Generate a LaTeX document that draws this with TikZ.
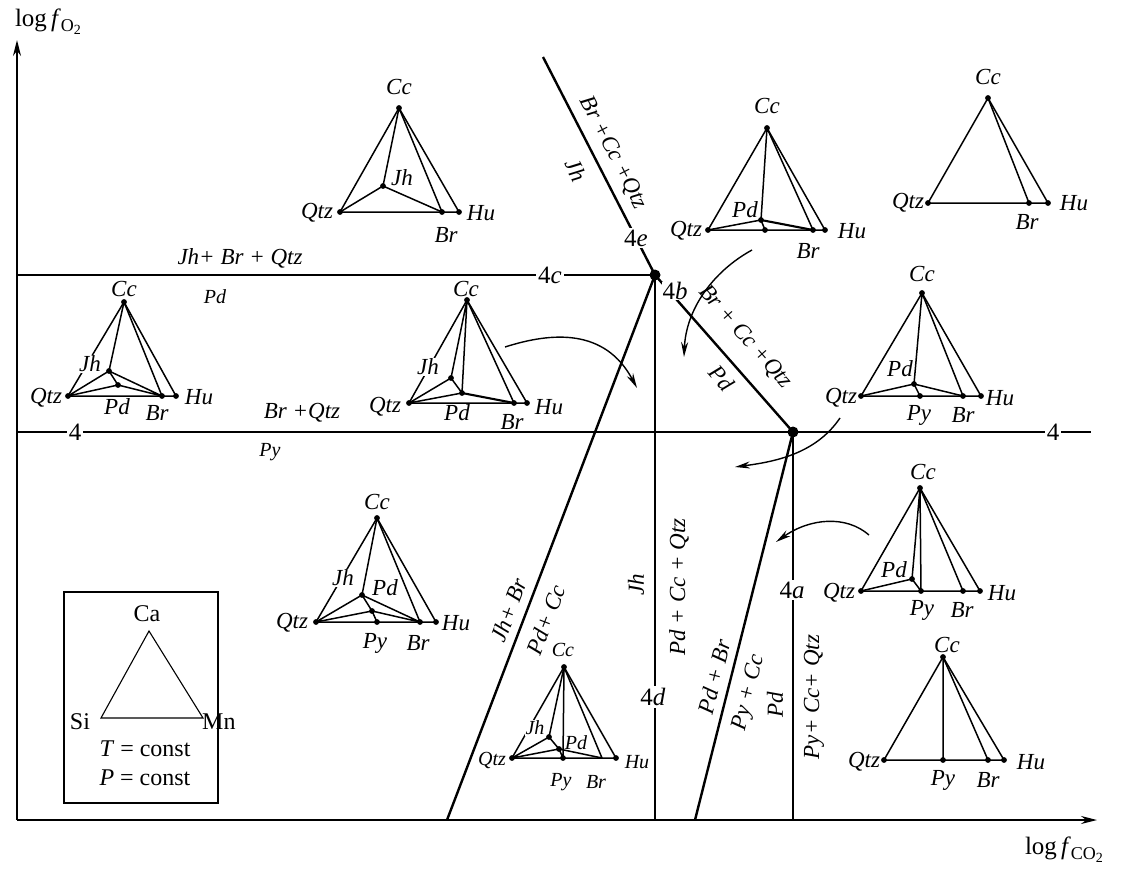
\documentclass[tikz,border=0pt]{standalone}
\usepackage{fontspec}
\setmainfont{Liberation Serif}
\usetikzlibrary{arrows.meta}
\begin{document}
\begin{tikzpicture}[x=1pt,y=-1pt,
 lab/.style={font=\fontsize{23}{25}\selectfont\itshape, inner sep=1pt},
 slab/.style={font=\fontsize{20}{22}\selectfont\itshape, inner sep=1pt},
 up/.style={font=\fontsize{24}{26}\selectfont, inner sep=1pt},
 num/.style={font=\fontsize{25}{27}\selectfont, fill=white, inner sep=2pt},
 gap/.style={fill=white, inner sep=0.5pt},
 phase/.style={line width=2.4pt},
 tri/.style={line width=1.5pt, line join=round},
 axis/.style={line width=1.6pt, -{Stealth[length=16pt,width=8pt]}},
 cur/.style={line width=1.4pt, -{Stealth[length=15pt,width=7pt]}},
 ]
\useasboundingbox (0,0) rectangle (1125,870);
\newcommand\dotsat[1]{\foreach \p in {#1} {\fill (\p) circle (2.9pt);}}

% ---------- axes ----------
\coordinate (O) at (17,820);
\coordinate (Ytop) at (17,40);
\coordinate (Xend) at (1097,820);
\draw[axis] (O) -- (Ytop);
\draw[axis] (O) -- (Xend);
\node[up, font=\fontsize{25}{27}\selectfont] (ylab) at (48,22) {log\,\textit{f}\raisebox{-0.45ex}{\fontsize{18}{18}\selectfont O\raisebox{-0.35ex}{\fontsize{14}{14}\selectfont 2}}};
\node[up, font=\fontsize{25}{27}\selectfont] (xlab) at (1064,850) {log\,\textit{f}\raisebox{-0.45ex}{\fontsize{18}{18}\selectfont CO\raisebox{-0.35ex}{\fontsize{14}{14}\selectfont 2}}};

% ---------- phase boundaries ----------
\coordinate (P4b) at (655,275);
\coordinate (P4) at (793,432);
\coordinate (Etop) at (543,57);
\coordinate (Cleft) at (17,275);
\coordinate (Aleft) at (17,432);
\coordinate (Aright) at (1091,432);
\coordinate (Dbot) at (655,820);
\coordinate (Abot) at (793,820);
\coordinate (Jbot) at (447,820);
\coordinate (Pbot) at (695,820);

\draw[phase] (P4b) -- (P4);
\node[num, inner sep=0.5pt] (n4b) at (675,291) {4\textit{b}};
\draw[phase] (Etop) -- (P4b);
\draw[phase] (Cleft) -- (P4b) -- (Dbot);
\draw[phase] (Aleft) -- (Aright);
\draw[phase] (P4) -- (Abot);
\draw[phase] (P4b) -- (Jbot);
\draw[phase] (P4) -- (Pbot);
\fill (P4b) circle (5.5pt);
\fill (P4) circle (5.5pt);

\node[num] (n4c) at (550,275) {4\textit{c}};
\node[num] (n4e) at (636,238) {4\textit{e}};
\node[num] (n4l) at (75,432) {4};
\node[num] (n4r) at (1053,432) {4};
\node[num] (n4d) at (653,697) {4\textit{d}};
\node[num] (n4a) at (792,590) {4\textit{a}};

% ---------- boundary labels ----------
\node[lab, rotate=-62.8] (l1) at (613,153) {Br +Cc +Qtz};
\node[lab, rotate=-62.8] (l2) at (576,170) {Jh};
\node[lab, rotate=-48.7] (l3) at (745,337) {Br + Cc +Qtz};
\node[lab, rotate=-48.7] (l4) at (722,378) {Pd};
\node[lab, rotate=69.1] (l5) at (509,610) {Jh+ Br};
\node[lab, rotate=69.1] (l6) at (546,620) {Pd+ Cc};
\node[lab, rotate=90] (l7) at (636,585) {Jh};
\node[lab, rotate=90] (l8) at (679,587) {Pd + Cc + Qtz};
\node[lab, rotate=75.8] (l9) at (714,677) {Pd + Br};
\node[lab, rotate=75.8] (l10) at (749,693) {Py + Cc};
\node[lab, rotate=90] (l11) at (775,705) {Pd};
\node[lab, rotate=90] (l12) at (814,697) {Py+ Cc+ Qtz};
\node[lab] (l13) at (240,258) {Jh+ Br + Qtz};
\node[slab] (l14) at (215,297) {Pd};
\node[lab] (l15) at (302,413) {Br +Qtz};
\node[slab] (l16) at (270,452) {Py};

% ---------- curved arrows ----------
\coordinate (a1s) at (505,347); \coordinate (a1e) at (637,388);
\coordinate (a2s) at (752,250); \coordinate (a2e) at (684,357);
\coordinate (a3s) at (840,418); \coordinate (a3e) at (735,467);
\coordinate (a4s) at (869,535); \coordinate (a4e) at (776,542);
\draw[cur] (a1s) .. controls (552,332) and (605,328) .. (a1e);
\draw[cur] (a2s) .. controls (712,272) and (686,310) .. (a2e);
\draw[cur] (a3s) .. controls (815,455) and (772,462) .. (a3e);
\draw[cur] (a4s) .. controls (846,515) and (810,518) .. (a4e);

% ---------- T1 ----------
\coordinate (t1c) at (399,108); \coordinate (t1q) at (340,212);
\coordinate (t1b) at (442,212); \coordinate (t1h) at (459,212);
\coordinate (t1j) at (383,186);
\draw[tri] (t1c) -- (t1q) -- (t1h) -- cycle;
\draw[tri] (t1c) -- (t1b) (t1c) -- (t1j) (t1q) -- (t1j) -- (t1b);
\dotsat{t1c,t1q,t1b,t1h,t1j}
\node[lab] (t1cL) at (399,87) {Cc};
\node[lab] (t1qL) at (317,213) {Qtz};
\node[lab] (t1hL) at (481,213) {Hu};
\node[lab] (t1bL) at (446,235) {Br};
\node[lab] (t1jL) at (402,178) {Jh};

% ---------- T2 ----------
\coordinate (t2c) at (767,128); \coordinate (t2q) at (708,230);
\coordinate (t2b) at (813,230); \coordinate (t2h) at (825,230);
\coordinate (t2d) at (761,220); \coordinate (t2y) at (765,230);
\draw[tri] (t2c) -- (t2q) -- (t2h) -- cycle;
\draw[tri] (t2c) -- (t2b) (t2c) -- (t2d) (t2q) -- (t2d) (t2d) -- (t2y);
\draw[tri, line width=2.1pt] (t2d) -- (t2b);
\dotsat{t2c,t2q,t2b,t2h,t2d,t2y}
\node[lab] (t2cL) at (767,106) {Cc};
\node[lab] (t2qL) at (686,231) {Qtz};
\node[lab] (t2hL) at (852,231) {Hu};
\node[lab] (t2bL) at (808,251) {Br};
\node[lab] (t2dL) at (745,210) {Pd};

% ---------- T3 ----------
\coordinate (t3c) at (988,98); \coordinate (t3q) at (928,203);
\coordinate (t3b) at (1029,203); \coordinate (t3h) at (1048,203);
\draw[tri] (t3c) -- (t3q) -- (t3h) -- cycle;
\draw[tri] (t3c) -- (t3b);
\dotsat{t3c,t3q,t3b,t3h}
\node[lab] (t3cL) at (988,77) {Cc};
\node[lab] (t3qL) at (908,203) {Qtz};
\node[lab] (t3hL) at (1074,203) {Hu};
\node[lab] (t3bL) at (1027,222) {Br};

% ---------- T4 ----------
\coordinate (t4c) at (124,302); \coordinate (t4q) at (68,396);
\coordinate (t4b) at (162,396); \coordinate (t4h) at (176,396);
\coordinate (t4j) at (109,371); \coordinate (t4d) at (118,385);
\draw[tri] (t4c) -- (t4q) -- (t4h) -- cycle;
\draw[tri] (t4c) -- (t4b) (t4c) -- (t4j) (t4q) -- (t4j) -- (t4b)
  (t4j) -- (t4d) (t4q) -- (t4d) -- (t4b);
\dotsat{t4c,t4q,t4b,t4h,t4j,t4d}
\node[lab] (t4cL) at (124,289) {Cc};
\node[lab] (t4qL) at (46,398) {Qtz};
\node[lab] (t4hL) at (199,397) {Hu};
\node[lab] (t4bL) at (157,413) {Br};
\node[lab] (t4dL) at (117,407) {Pd};
\node[lab, gap] (t4jL) at (90,364) {Jh};

% ---------- T5 ----------
\coordinate (t5c) at (467,300); \coordinate (t5q) at (409,403);
\coordinate (t5b) at (514,403); \coordinate (t5h) at (527,403);
\coordinate (t5j) at (451,378); \coordinate (t5d) at (462,393);
\draw[tri] (t5c) -- (t5q) -- (t5h) -- cycle;
\draw[tri] (t5c) -- (t5b) (t5c) -- (t5j) (t5c) -- (t5d)
  (t5q) -- (t5j) -- (t5d) (t5q) -- (t5d);
\draw[tri, line width=2.1pt] (t5d) -- (t5b);
\dotsat{t5c,t5q,t5b,t5h,t5j,t5d}
\node[lab] (t5cL) at (466,289) {Cc};
\node[lab] (t5qL) at (385,407) {Qtz};
\node[lab] (t5hL) at (549,407) {Hu};
\node[lab] (t5bL) at (512,422) {Br};
\node[lab] (t5dL) at (457,413) {Pd};
\node[lab, gap] (t5jL) at (428,367) {Jh};

% ---------- T6 ----------
\coordinate (t6c) at (922,293); \coordinate (t6q) at (861,396);
\coordinate (t6y) at (920,396); \coordinate (t6b) at (963,396);
\coordinate (t6h) at (981,396); \coordinate (t6d) at (914,384);
\draw[tri] (t6c) -- (t6q) -- (t6h) -- cycle;
\draw[tri] (t6c) -- (t6b) (t6c) -- (t6d) (t6q) -- (t6d) -- (t6b) (t6d) -- (t6y);
\dotsat{t6c,t6q,t6y,t6b,t6h,t6d}
\node[lab] (t6cL) at (922,274) {Cc};
\node[lab] (t6qL) at (841,398) {Qtz};
\node[lab] (t6hL) at (1000,398) {Hu};
\node[lab] (t6yL) at (919,415) {Py};
\node[lab] (t6bL) at (963,415) {Br};
\node[lab] (t6dL) at (900,369) {Pd};

% ---------- T7 ----------
\coordinate (t7c) at (377,518); \coordinate (t7q) at (316,622);
\coordinate (t7y) at (377,622); \coordinate (t7b) at (420,622);
\coordinate (t7h) at (436,622); \coordinate (t7d) at (362,595);
\coordinate (t7x) at (372,611);
\draw[tri] (t7c) -- (t7q) -- (t7h) -- cycle;
\draw[tri] (t7c) -- (t7b) (t7c) -- (t7d) (t7q) -- (t7d) -- (t7b)
  (t7d) -- (t7x) -- (t7y) (t7q) -- (t7x) -- (t7b);
\dotsat{t7c,t7q,t7y,t7b,t7h,t7d,t7x}
\node[lab] (t7cL) at (377,502) {Cc};
\node[lab] (t7qL) at (292,623) {Qtz};
\node[lab] (t7hL) at (456,623) {Hu};
\node[lab] (t7yL) at (375,643) {Py};
\node[lab] (t7bL) at (418,643) {Br};
\node[lab] (t7dL) at (385,588) {Pd};
\node[lab, gap] (t7jL) at (343,578) {Jh};

% ---------- T8 ----------
\coordinate (t8c) at (564,667); \coordinate (t8q) at (512,758);
\coordinate (t8y) at (563,758); \coordinate (t8b) at (602,758);
\coordinate (t8h) at (616,758); \coordinate (t8j) at (549,737);
\coordinate (t8d) at (559,749);
\draw[tri] (t8c) -- (t8q) -- (t8h) -- cycle;
\draw[tri] (t8c) -- (t8b) (t8c) -- (t8j) (t8c) -- (t8y)
  (t8q) -- (t8j) -- (t8d) (t8q) -- (t8d) -- (t8b) (t8d) -- (t8y);
\dotsat{t8c,t8q,t8y,t8h,t8j,t8d}
\node[slab] (t8cL) at (563,650) {Cc};
\node[slab] (t8qL) at (492,760) {Qtz};
\node[slab] (t8hL) at (637,762) {Hu};
\node[slab] (t8yL) at (561,782) {Py};
\node[slab] (t8bL) at (596,782) {Br};
\node[slab] (t8dL) at (576,743) {Pd};
\node[slab, gap] (t8jL) at (535,728) {Jh};

% ---------- T9 ----------
\coordinate (t9c) at (920,488); \coordinate (t9q) at (861,591);
\coordinate (t9y) at (921,591); \coordinate (t9b) at (963,591);
\coordinate (t9h) at (980,591); \coordinate (t9d) at (912,579);
\draw[tri] (t9c) -- (t9q) -- (t9h) -- cycle;
\draw[tri] (t9c) -- (t9b) (t9c) -- (t9y) (t9c) -- (t9d) (t9q) -- (t9d) -- (t9y);
\dotsat{t9c,t9q,t9y,t9b,t9h,t9d}
\node[lab] (t9cL) at (923,472) {Cc};
\node[lab] (t9qL) at (839,593) {Qtz};
\node[lab] (t9hL) at (1002,593) {Hu};
\node[lab] (t9yL) at (922,610) {Py};
\node[lab] (t9bL) at (962,610) {Br};
\node[lab] (t9dL) at (894,570) {Pd};

% ---------- T10 ----------
\coordinate (t10c) at (943,657); \coordinate (t10q) at (884,760);
\coordinate (t10y) at (943,760); \coordinate (t10b) at (988,760);
\coordinate (t10h) at (1004,760);
\draw[tri] (t10c) -- (t10q) -- (t10h) -- cycle;
\draw[tri] (t10c) -- (t10b) (t10c) -- (t10y);
\dotsat{t10c,t10q,t10y,t10b,t10h}
\node[lab] (t10cL) at (947,645) {Cc};
\node[lab] (t10qL) at (864,762) {Qtz};
\node[lab] (t10hL) at (1031,762) {Hu};
\node[lab] (t10yL) at (943,780) {Py};
\node[lab] (t10bL) at (988,780) {Br};

% ---------- legend ----------
\node[draw, line width=1.2pt, minimum width=154pt, minimum height=211pt, inner sep=0pt] (leg) at (141,697.5) {};
\coordinate (lca) at (149,631); \coordinate (lsi) at (101,718); \coordinate (lmn) at (203,718);
\draw[line width=1.1pt] (lca) -- (lsi) -- (lmn) -- cycle;
\node[up] (lcaL) at (147,614) {Ca};
\node[up] (lsiL) at (80,722) {Si};
\node[up, anchor=west] (lmnL) at (201,722) {Mn};
\node[up] (lT) at (145,749) {\textit{T} = const};
\node[up] (lP) at (145,778) {\textit{P} = const};
\end{tikzpicture}
\end{document}
